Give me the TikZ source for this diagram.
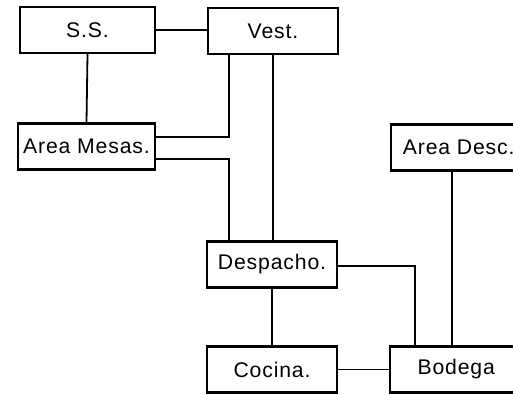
\documentclass[tikz,border=0pt]{standalone}
\usepackage{fontspec}
\setmainfont{Liberation Sans}[LetterSpace=4]
\usepackage{tikz}

\tikzset{
 room/.style={draw, line width=1.2pt, minimum height=23pt, inner sep=0pt, font=\fontsize{10.6}{12}\selectfont},
 link/.style={line width=0.9pt}
}

\begin{document}
\begin{tikzpicture}[x=0.5pt, y=-0.5pt]
 \clip (0,0) rectangle (513,395);
 \node[room, minimum width=67.5pt] (SS) at (87.5, 30) {S.S.};
 \node[room, minimum width=65pt] (VEST) at (273, 31) {Vest.};
 \node[room, minimum width=68.5pt] (MESAS) at (86.5, 146.5) {Area Mesas.};
 \node[room, minimum width=67.5pt, anchor=west] (DESC) at (390, 147.5) {Area Desc.};
 \node[room, minimum width=65pt] (DESP) at (272, 264.5) {Despacho.};
 \node[room, minimum width=65pt] (COCINA) at (272, 369.5) {Cocina.};
 \node[room, minimum width=66pt, anchor=west] (BODEGA) at (389, 369.5) {Bodega};
 \coordinate (J1) at (229, 137);
 \coordinate (J2) at (229, 159);
 \coordinate (J3) at (415, 266);
 \coordinate (J4) at (452, 200);
 \draw[link] (SS.east) -- (SS.east -| VEST.west);
 \draw[link] (SS.south) -- (MESAS.north);
 \draw[link] (VEST.south -| J1) -- (J1) -- (J1 -| MESAS.east);
 \draw[link] (J2 -| MESAS.east) -- (J2) -- (J2 |- DESP.north);
 \draw[link] (VEST.south) -- (VEST.south |- DESP.north);
 \draw[link] (DESP.south) -- (COCINA.north);
 \draw[link] (COCINA.east) -- (BODEGA.west);
 \draw[link] (DESP.east |- J3) -- (J3) -- (J3 |- BODEGA.north);
 \draw[link] (DESC.south -| J4) -- (J4 |- BODEGA.north);
\end{tikzpicture}
\end{document}
